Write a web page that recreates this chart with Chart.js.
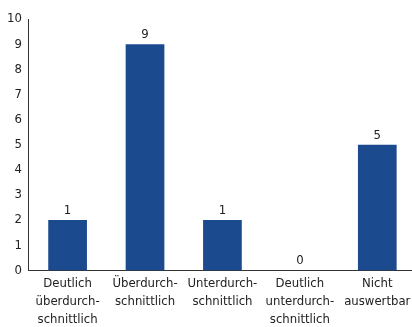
<!DOCTYPE html>
<html lang="de">
<head>
  <meta charset="UTF-8">
  <title>Bewertung</title>
  <script src="https://cdn.jsdelivr.net/npm/chart.js"></script>
  <style>
    html, body { margin: 0; padding: 0; background: #fff; overflow: hidden; }
    #wrap { width: 416px; height: 333px; }
  </style>
</head>
<body>
  <div id="wrap"><canvas id="chart" width="416" height="333"></canvas></div>
  <script>
    const categories = [
      ['Deutlich', 'überdurch-', 'schnittlich'],
      ['Überdurch-', 'schnittlich'],
      ['Unterdurch-', 'schnittlich'],
      ['Deutlich', 'unterdurch-', 'schnittlich'],
      ['Nicht', 'auswertbar']
    ];
    const barValues = [2, 9, 2, 0, 5];
    const valueLabels = ['1', '9', '1', '0', '5'];
    const yTicks = [0, 1, 2, 3, 4, 5, 6, 7, 8, 9, 10];

    const fontFamily = '"DejaVu Sans Condensed", "DejaVu Sans", sans-serif';
    const textColor = '#222';

    // Zahlen über den Balken
    const valueLabelPlugin = {
      id: 'valueLabels',
      afterDatasetsDraw(chart) {
        const ctx = chart.ctx;
        const meta = chart.getDatasetMeta(0);
        ctx.save();
        ctx.font = '13px ' + fontFamily;
        ctx.fillStyle = textColor;
        ctx.textAlign = 'center';
        ctx.textBaseline = 'bottom';
        meta.data.forEach((bar, i) => {
          ctx.fillText(valueLabels[i], bar.x, bar.y - 3);
        });
        ctx.restore();
      }
    };

    new Chart(document.getElementById('chart'), {
      type: 'bar',
      data: {
        labels: categories,
        datasets: [{
          data: barValues,
          backgroundColor: '#1c4a8f',
          categoryPercentage: 1,
          barPercentage: 0.5
        }]
      },
      options: {
        responsive: false,
        animation: false,
        layout: { padding: { top: 19, left: 0, right: 0, bottom: 0 } },
        plugins: {
          legend: { display: false },
          tooltip: { enabled: false }
        },
        scales: {
          x: {
            grid: { display: false, drawTicks: false },
            border: { color: '#333', width: 1 },
            ticks: {
              color: textColor,
              font: { family: fontFamily, size: 13, lineHeight: 1.4 },
              maxRotation: 0,
              autoSkip: false,
              padding: 4
            }
          },
          y: {
            min: 0,
            max: 10,
            afterBuildTicks(axis) { axis.ticks = yTicks.map(v => ({ value: v })); },
            grid: { display: false, drawTicks: false },
            border: { color: '#333', width: 1 },
            ticks: {
              color: textColor,
              font: { family: fontFamily, size: 13 },
              padding: 7
            }
          }
        }
      },
      plugins: [valueLabelPlugin]
    });
  </script>
</body>
</html>
